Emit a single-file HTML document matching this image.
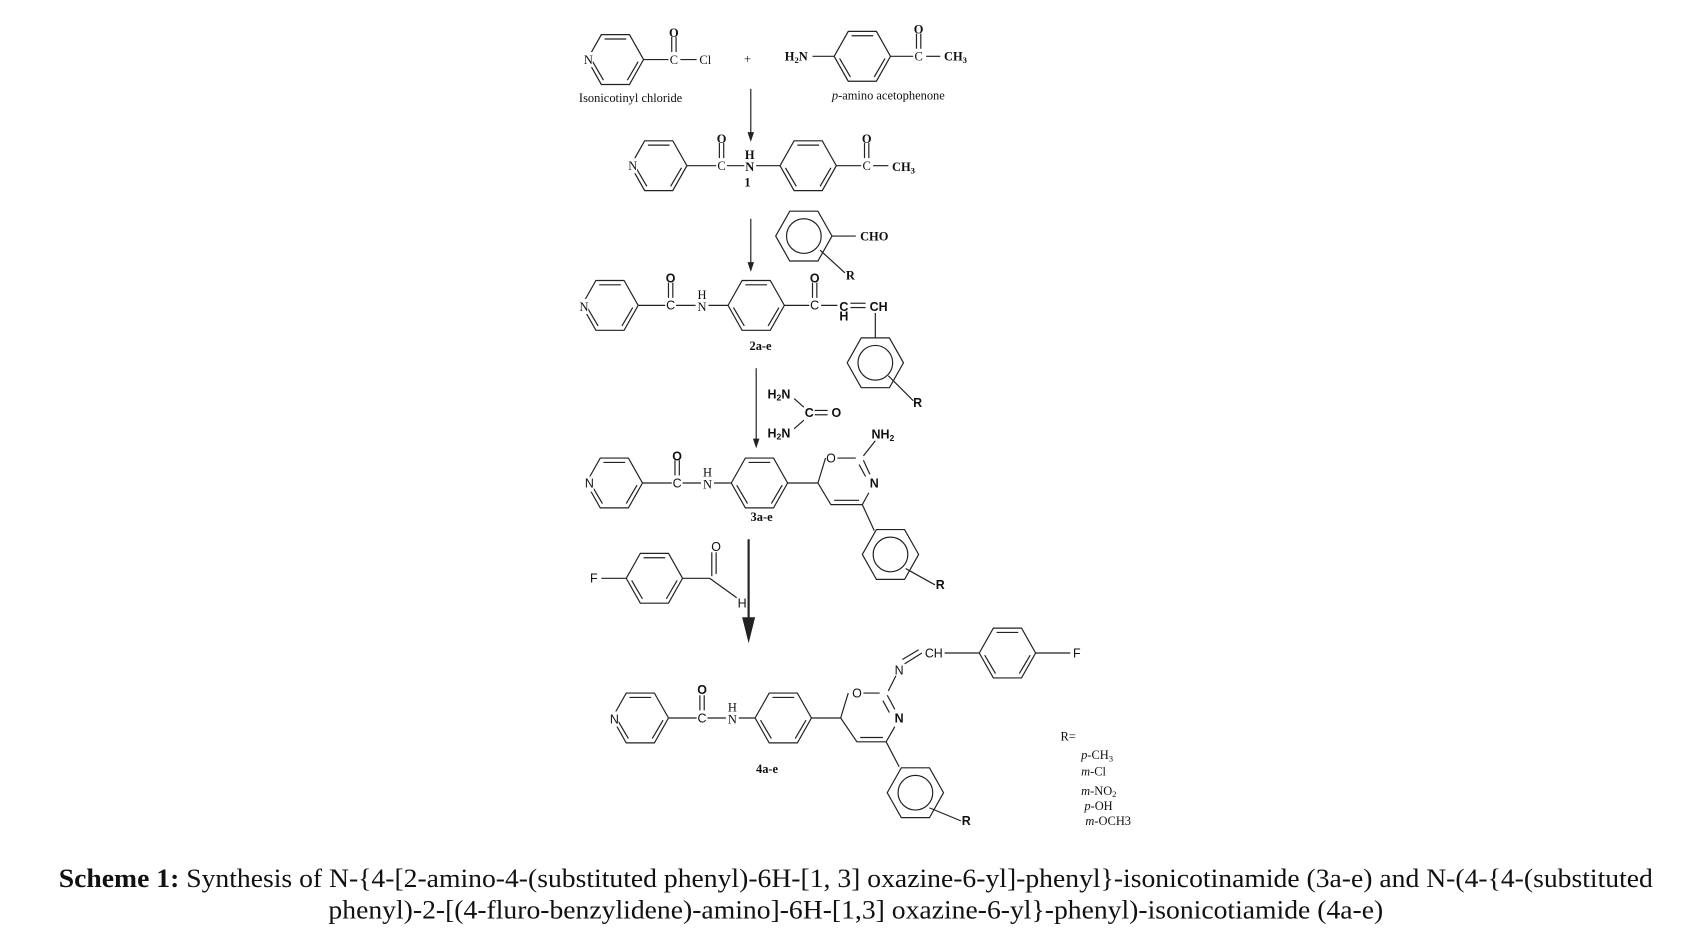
<!DOCTYPE html>
<html><head><meta charset="utf-8"><style>
html,body{margin:0;padding:0;background:#fff;}
svg{display:block}
text{font-family:"Liberation Serif",serif;fill:#111}
.s{font-family:"Liberation Sans",sans-serif}
</style></head><body>
<svg width="1690" height="940" viewBox="0 0 1560 868" xmlns="http://www.w3.org/2000/svg">
<defs>
<g id="hx" fill="none" stroke="#222" stroke-width="1.1">
<polygon points="-26,0 -13,-23 13,-23 26,0 13,23 -13,23"/>
<line x1="-10" y1="-19" x2="10" y2="-19"/>
<line x1="21" y1="2" x2="11" y2="19"/>
<line x1="-21" y1="2" x2="-11" y2="19"/>
</g>
<g id="hc" fill="none" stroke="#222" stroke-width="1.1">
<polygon points="-26,0 -13,-23 13,-23 26,0 13,23 -13,23"/>
<circle r="16"/>
</g>
</defs>
<g stroke="#222" stroke-width="1.1" fill="none">
<line x1="594" y1="55" x2="617" y2="55"/><line x1="620" y1="34" x2="620" y2="48"/><line x1="624" y1="34" x2="624" y2="48"/><line x1="628" y1="55" x2="643" y2="55"/>
<line x1="750" y1="52" x2="770" y2="52"/><line x1="822" y1="52" x2="843" y2="52"/><line x1="846" y1="31" x2="846" y2="45"/><line x1="850" y1="31" x2="850" y2="45"/><line x1="855" y1="52" x2="868" y2="52"/>
<line x1="693" y1="82" x2="693" y2="126"/>
<line x1="634" y1="153" x2="661" y2="153"/><line x1="664" y1="132" x2="664" y2="146"/><line x1="668" y1="132" x2="668" y2="146"/><line x1="671" y1="153" x2="687" y2="153"/><line x1="698" y1="153" x2="720" y2="153"/>
<line x1="772" y1="153" x2="795" y2="153"/><line x1="798" y1="132" x2="798" y2="146"/><line x1="802" y1="132" x2="802" y2="146"/><line x1="806" y1="153" x2="820" y2="153"/>
<line x1="693" y1="202" x2="693" y2="246"/>
<line x1="768" y1="218" x2="790" y2="218"/><line x1="757" y1="231" x2="780" y2="252"/>
<line x1="589" y1="282" x2="614" y2="282"/><line x1="617" y1="261" x2="617" y2="275"/><line x1="621" y1="261" x2="621" y2="275"/><line x1="624" y1="282" x2="642" y2="282"/><line x1="654" y1="282" x2="672" y2="282"/>
<line x1="724" y1="282" x2="747" y2="282"/><line x1="750" y1="261" x2="750" y2="275"/><line x1="754" y1="261" x2="754" y2="275"/><line x1="758" y1="282" x2="773" y2="282"/>
<line x1="785" y1="280" x2="799" y2="280"/><line x1="785" y1="284" x2="799" y2="284"/>
<line x1="808" y1="289" x2="808" y2="312"/><line x1="820" y1="347" x2="843" y2="370"/>
<line x1="698" y1="340" x2="698" y2="408"/>
<line x1="733" y1="368" x2="742" y2="376"/><line x1="733" y1="396" x2="742" y2="388"/><line x1="752" y1="379" x2="764" y2="379"/><line x1="752" y1="383" x2="764" y2="383"/>
<line x1="593" y1="446" x2="620" y2="446"/><line x1="623" y1="425" x2="623" y2="439"/><line x1="627" y1="425" x2="627" y2="439"/><line x1="630" y1="446" x2="647" y2="446"/><line x1="659" y1="446" x2="675" y2="446"/>
<line x1="727" y1="446" x2="755" y2="446"/>
<polyline points="762,423 755,446 767,466 796,466 802,455"/><line x1="770" y1="462" x2="793" y2="462"/>
<line x1="773" y1="423" x2="790" y2="423"/><line x1="797" y1="425" x2="803" y2="438"/><line x1="793" y1="429" x2="799" y2="440"/>
<line x1="797" y1="421" x2="808" y2="407"/><line x1="796" y1="466" x2="807" y2="490"/>
<line x1="836" y1="525" x2="863" y2="540"/>
<line x1="691" y1="498" x2="691" y2="580" stroke-width="2"/>
<line x1="555" y1="534" x2="578" y2="534"/><line x1="630" y1="534" x2="655" y2="534"/><line x1="655" y1="534" x2="680" y2="552"/><line x1="657" y1="510" x2="657" y2="532"/><line x1="661" y1="510" x2="661" y2="530"/>
<line x1="617" y1="663" x2="643" y2="663"/><line x1="646" y1="642" x2="646" y2="656"/><line x1="650" y1="642" x2="650" y2="656"/><line x1="653" y1="663" x2="670" y2="663"/><line x1="682" y1="663" x2="697" y2="663"/>
<line x1="749" y1="663" x2="776" y2="663"/>
<polyline points="783,640 776,663 791,685 818,685 826,671"/><line x1="794" y1="681" x2="815" y2="681"/>
<line x1="797" y1="640" x2="812" y2="640"/><line x1="819" y1="642" x2="826" y2="655"/><line x1="815" y1="647" x2="821" y2="658"/>
<line x1="820" y1="638" x2="827" y2="624"/><line x1="835" y1="613" x2="851" y2="603"/><line x1="833" y1="609" x2="848" y2="600"/>
<line x1="872" y1="603" x2="904" y2="603"/><line x1="956" y1="603" x2="988" y2="603"/>
<line x1="818" y1="685" x2="830" y2="708"/><line x1="858" y1="746" x2="887" y2="758"/>
</g>
<polygon points="693,131 690,122 696,122" fill="#222"/>
<polygon points="693,251 690,242 696,242" fill="#222"/>
<polygon points="698,414 695,405 701,405" fill="#222"/>
<polygon points="691,594 685,570 697,570" fill="#222"/>
<use href="#hx" x="568" y="55"/>
<use href="#hx" x="796" y="52"/>
<use href="#hx" x="608" y="153"/>
<use href="#hx" x="746" y="153"/>
<use href="#hc" x="742" y="218"/>
<use href="#hx" x="563" y="282"/>
<use href="#hx" x="698" y="282"/>
<use href="#hc" x="808" y="335"/>
<use href="#hx" x="567" y="446"/>
<use href="#hx" x="701" y="446"/>
<use href="#hc" x="822" y="512"/>
<use href="#hx" x="604" y="534"/>
<use href="#hx" x="591" y="663"/>
<use href="#hx" x="723" y="663"/>
<use href="#hx" x="930" y="603"/>
<use href="#hc" x="845" y="732"/>
<g font-size="11.5" text-anchor="middle">
<rect x="537" y="48" width="10" height="14" fill="#fff"/><text x="543" y="59">N</text>
<text x="622" y="34" font-weight="bold">O</text><text x="622" y="59">C</text><text x="651" y="59">Cl</text>
<text x="690" y="58">+</text>
<text x="735" y="56" font-weight="bold">H<tspan font-size="8" dy="2">2</tspan><tspan dy="-2">N</tspan></text>
<text x="848" y="31" font-weight="bold">O</text><text x="848" y="56">C</text><text x="882" y="56" font-weight="bold">CH<tspan font-size="8" dy="2">3</tspan></text>
<text x="582" y="94">Isonicotinyl chloride</text>
<text x="820" y="92"><tspan font-style="italic">p</tspan>-amino acetophenone</text>
<rect x="578" y="146" width="10" height="14" fill="#fff"/><text x="584" y="157">N</text>
<text x="666" y="132" font-weight="bold">O</text><text x="666" y="157">C</text>
<text x="692" y="147" font-weight="bold">H</text><text x="692" y="158" font-weight="bold">N</text><text x="690" y="172" font-weight="bold">1</text>
<text x="800" y="132" font-weight="bold">O</text><text x="800" y="157">C</text><text x="834" y="158" font-weight="bold">CH<tspan font-size="8" dy="2">3</tspan></text>
<text x="807" y="222" font-weight="bold">CHO</text><text x="785" y="258" font-weight="bold">R</text>
<rect x="533" y="276" width="10" height="14" fill="#fff"/><text x="539" y="287">N</text>
<text class="s" x="619" y="261" font-weight="bold">O</text><text class="s" x="619" y="286">C</text>
<text x="648" y="276">H</text><text x="648" y="287">N</text>
<text class="s" x="752" y="261" font-weight="bold">O</text><text class="s" x="752" y="286">C</text>
<text class="s" x="779" y="287" font-weight="bold">C</text><text class="s" x="779" y="296" font-weight="bold">H</text>
<text class="s" x="811" y="287" font-weight="bold">CH</text>
<text x="702" y="323" font-weight="bold">2a-e</text>
<text class="s" x="847" y="376" font-weight="bold">R</text>
<text class="s" x="719" y="368" font-weight="bold">H<tspan font-size="8" dy="2">2</tspan><tspan dy="-2">N</tspan></text>
<text class="s" x="747" y="385" font-weight="bold">C</text><text class="s" x="772" y="385" font-weight="bold">O</text>
<text class="s" x="719" y="404" font-weight="bold">H<tspan font-size="8" dy="2">2</tspan><tspan dy="-2">N</tspan></text>
<text class="s" x="815" y="405" font-weight="bold">NH<tspan font-size="8" dy="2">2</tspan></text>
<rect x="538" y="440" width="10" height="14" fill="#fff"/><text class="s" x="544" y="450">N</text>
<text class="s" x="625" y="425" font-weight="bold">O</text><text class="s" x="625" y="450">C</text>
<text x="653" y="440">H</text><text x="653" y="451">N</text>
<text class="s" x="767" y="427">O</text><text class="s" x="807" y="450" font-weight="bold">N</text>
<text x="703" y="481" font-weight="bold">3a-e</text>
<text class="s" x="868" y="544" font-weight="bold">R</text>
<text class="s" x="548" y="538">F</text><text class="s" x="661" y="509">O</text><text class="s" x="685" y="561">H</text>
<rect x="561" y="657" width="10" height="14" fill="#fff"/><text class="s" x="567" y="668">N</text>
<text class="s" x="648" y="641" font-weight="bold">O</text><text class="s" x="648" y="667">C</text>
<text x="676" y="657">H</text><text x="676" y="668">N</text>
<text class="s" x="791" y="644">O</text><text class="s" x="830" y="667" font-weight="bold">N</text>
<text class="s" x="830" y="623">N</text><text class="s" x="862" y="607">CH</text><text class="s" x="994" y="607">F</text>
<text x="708" y="714" font-weight="bold">4a-e</text>
<text class="s" x="892" y="762" font-weight="bold">R</text>
</g>
<g font-size="11.5">
<text x="979" y="684">R=</text>
<text x="998" y="701"><tspan font-style="italic">p</tspan>-CH<tspan font-size="8" dy="2">3</tspan></text>
<text x="998" y="716"><tspan font-style="italic">m</tspan>-Cl</text>
<text x="998" y="734"><tspan font-style="italic">m</tspan>-NO<tspan font-size="8" dy="2">2</tspan></text>
<text x="1001" y="748"><tspan font-style="italic">p</tspan>-OH</text>
<text x="1002" y="762"><tspan font-style="italic">m</tspan>-OCH3</text>
</g>
<text x="54" y="819" font-size="24" textLength="1472" lengthAdjust="spacingAndGlyphs"><tspan font-weight="bold">Scheme 1:</tspan> Synthesis of N-{4-[2-amino-4-(substituted phenyl)-6H-[1, 3] oxazine-6-yl]-phenyl}-isonicotinamide (3a-e) and N-(4-{4-(substituted</text>
<text x="303" y="848" font-size="24" textLength="974" lengthAdjust="spacingAndGlyphs">phenyl)-2-[(4-fluro-benzylidene)-amino]-6H-[1,3] oxazine-6-yl}-phenyl)-isonicotiamide (4a-e)</text>
</svg>
</body></html>
